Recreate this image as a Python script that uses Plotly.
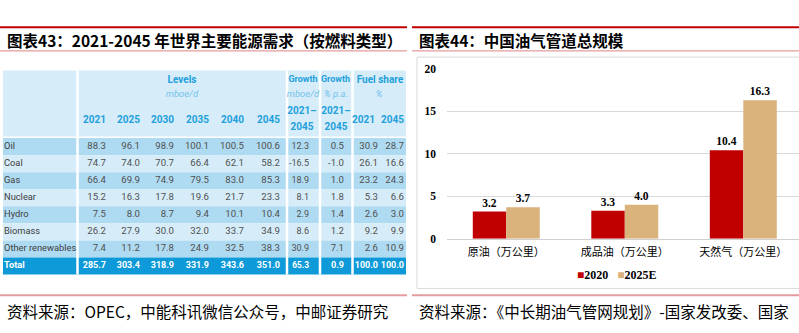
import plotly.graph_objects as go

W, H = 799, 333

# ---------------- Table data (图表43) ----------------
fuels = ["Oil", "Coal", "Gas", "Nuclear", "Hydro", "Biomass", "Other renewables", "Total"]
level_years = ["2021", "2025", "2030", "2035", "2040", "2045"]
lvl_2021 = [88.3, 74.7, 66.4, 15.2, 7.5, 26.2, 7.4, 285.7]
lvl_2025 = [96.1, 74.0, 69.9, 16.3, 8.0, 27.9, 11.2, 303.4]
lvl_2030 = [98.9, 70.7, 74.9, 17.8, 8.7, 30.0, 17.8, 318.9]
lvl_2035 = [100.1, 66.4, 79.5, 19.6, 9.4, 32.0, 24.9, 331.9]
lvl_2040 = [100.5, 62.1, 83.0, 21.7, 10.1, 33.7, 32.5, 343.6]
lvl_2045 = [100.6, 58.2, 85.3, 23.3, 10.4, 34.9, 38.3, 351.0]
growth_mboe = [12.3, -16.5, 18.9, 8.1, 2.9, 8.6, 30.9, 65.3]
growth_pa = [0.5, -1.0, 1.0, 1.8, 1.4, 1.2, 7.1, 0.9]
share_years = ["2021", "2045"]
share_2021 = [30.9, 26.1, 23.2, 5.3, 2.6, 9.2, 2.6, 100.0]
share_2045 = [28.7, 16.6, 24.3, 6.6, 3.0, 9.9, 10.9, 100.0]

# ---------------- Bar chart data (图表44) ----------------
pipe_cats = ["原油（万公里）", "成品油（万公里）", "天然气（万公里）"]
pipe_2020 = [3.2, 3.3, 10.4]
pipe_2025 = [3.7, 4.0, 16.3]
series_names = ["2020", "2025E"]
y_ticks = [0, 5, 10, 15, 20]

# ---------------- styles / layout positions ----------------
RED = "#C00000"
TAN = "#D9B27C"
PINK = "#E49C9C"
HDR_BG = "#D6EDF9"
ROW_DARK = "#AFDBF2"
ROW_LIGHT = "#D6EDF9"
TOTAL_BG = "#0E9AD8"
BLUE_TXT = "#23A0DC"
BLUE_IT = "#74C2EA"
VAL_TXT = "#505050"
CJK = "Noto Sans CJK SC"
SERIF = "Liberation Serif"
TBL = "Roboto"

tbl_x0, tbl_x1 = 3, 406
hdr_y0, hdr_y1 = 67, 135.5
body_y0, row_h = 137, 17.7
col_right = [106, 140, 174, 209, 244, 280, 309, 344, 378, 404]
col_size = [9.6, 9.6, 9.6, 9.6, 9.6, 9.6, 9.0, 9.6, 9.6, 9.6]
sep_x = [77.5, 287, 320, 352.5]


def fmt(v):
    s = f"{abs(v):.1f}"
    return ("-" + s) if v < 0 else s


columns = [lvl_2021, lvl_2025, lvl_2030, lvl_2035, lvl_2040, lvl_2045,
           growth_mboe, growth_pa, share_2021, share_2045]
n_rows = len(fuels)
row_cy = [body_y0 + (i + 0.5) * row_h for i in range(n_rows)]

fig = go.Figure()

# ---- bars ----
for name, vals, col in [(series_names[0], pipe_2020, RED), (series_names[1], pipe_2025, TAN)]:
    fig.add_trace(go.Bar(
        x=pipe_cats, y=vals, name=name, marker=dict(color=col, line=dict(width=0)),
        texttemplate="%{y:.1f}", textposition="outside",
        textfont=dict(family=SERIF, size=11.5, color="#000000", weight="bold"),
        cliponaxis=False, showlegend=False, xaxis="x", yaxis="y",
    ))

# ---- table text (pixel overlay axes x2/y2) ----
bx, by, bt, bs = [], [], [], []
tx, ty, tt, ts = [], [], [], []
for j, colvals in enumerate(columns):
    for i, v in enumerate(colvals):
        if i == n_rows - 1:
            tx.append(col_right[j]); ty.append(row_cy[i]); tt.append(fmt(v)); ts.append(col_size[j] - 0.6)
        else:
            bx.append(col_right[j]); by.append(row_cy[i]); bt.append(fmt(v)); bs.append(col_size[j])

common = dict(mode="text", xaxis="x2", yaxis="y2", showlegend=False,
              hoverinfo="skip", cliponaxis=False, marker=dict(size=1))

fig.add_trace(go.Scatter(x=bx, y=by, text=bt, textposition="middle left",
                         textfont=dict(family=TBL, size=bs, color=VAL_TXT), **common))
fig.add_trace(go.Scatter(x=tx, y=ty, text=tt, textposition="middle left",
                         textfont=dict(family=TBL, size=ts, color="#FFFFFF", weight="bold"), **common))
# row labels
fig.add_trace(go.Scatter(x=[4] * (n_rows - 1), y=row_cy[:-1], text=fuels[:-1],
                         textposition="middle right",
                         textfont=dict(family=TBL, size=9.3, color="#404040"), **common))
fig.add_trace(go.Scatter(x=[4], y=[row_cy[-1]], text=[fuels[-1]], textposition="middle right",
                         textfont=dict(family=TBL, size=9.3, color="#FFFFFF", weight="bold"), **common))
# header: year labels (right aligned)
hy_x = col_right[:6] + [col_right[8] - 3, col_right[9]]
hy_t = level_years + share_years
fig.add_trace(go.Scatter(x=hy_x, y=[119] * len(hy_x), text=hy_t, textposition="middle left",
                         textfont=dict(family=TBL, size=10, color=BLUE_TXT, weight="bold"), **common))
# header: bold centred labels
hb = [("Levels", 182, 77), ("Fuel share", 380, 77),
      ("2021–", 302, 109), ("2045", 302, 126), ("2021–", 336, 109), ("2045", 336, 126)]
fig.add_trace(go.Scatter(x=[h[1] for h in hb], y=[h[2] for h in hb], text=[h[0] for h in hb],
                         textposition="middle center",
                         textfont=dict(family=TBL, size=10, color=BLUE_TXT, weight="bold"), **common))
hg = [("Growth", 303, 77), ("Growth", 335.5, 77)]
fig.add_trace(go.Scatter(x=[h[1] for h in hg], y=[h[2] for h in hg], text=[h[0] for h in hg],
                         textposition="middle center",
                         textfont=dict(family=TBL, size=9, color=BLUE_TXT, weight="bold"), **common))
hi = [("mboe/d", 182, 92), ("mboe/d", 303, 92), ("% p.a.", 336, 92), ("%", 379, 92)]
fig.add_trace(go.Scatter(x=[h[1] for h in hi], y=[h[2] for h in hi], text=[h[0] for h in hi],
                         textposition="middle center",
                         textfont=dict(family=TBL, size=9.5, color=BLUE_IT, style="italic"), **common))

# ---- shapes ----
shapes = []


def rect(x0, y0, x1, y1, fill, line_color=None, lw=0, layer="below"):
    shapes.append(dict(type="rect", xref="x2", yref="y2", x0=x0, y0=y0, x1=x1, y1=y1,
                       fillcolor=fill, line=dict(color=line_color or fill, width=lw), layer=layer))


def hline(x0, x1, y, color, w):
    shapes.append(dict(type="line", xref="x2", yref="y2", x0=x0, x1=x1, y0=y, y1=y,
                       line=dict(color=color, width=w), layer="below"))


# table backgrounds
rect(tbl_x0, hdr_y0, tbl_x1, hdr_y1, HDR_BG)
for i in range(n_rows):
    y0 = body_y0 + i * row_h
    colr = TOTAL_BG if i == n_rows - 1 else (ROW_DARK if i % 2 == 0 else ROW_LIGHT)
    rect(tbl_x0, y0, tbl_x1, y0 + row_h, colr)
for sx in sep_x:
    shapes.append(dict(type="line", xref="x2", yref="y2", x0=sx, x1=sx, y0=hdr_y0,
                       y1=body_y0 + n_rows * row_h, line=dict(color="#FFFFFF", width=2.5), layer="below"))

# chart frame
shapes.append(dict(type="rect", xref="x2", yref="y2", x0=417, y0=53, x1=812, y1=293,
                   line=dict(color="#D9D9D9", width=1), fillcolor="rgba(0,0,0,0)", layer="below"))

# rules
hline(0, 407, 22, RED, 2)
hline(412, 799, 22, RED, 2)
hline(0, 407, 46.5, PINK, 1.2)
hline(412, 799, 46.5, PINK, 1.2)
hline(0, 407, 300, PINK, 2)
hline(412, 799, 300, PINK, 2)

# ---- annotations ----
def px(x):
    return x / W


def py(y):
    return 1 - y / H


annotations = [
    dict(text="<b>图表43：2021-2045 年世界主要能源需求（按燃料类型）</b>", x=px(5), y=py(35),
         xanchor="left", yanchor="middle", font=dict(family=CJK, size=15.5, color="#000000")),
    dict(text="<b>图表44：中国油气管道总规模</b>", x=px(417), y=py(35),
         xanchor="left", yanchor="middle", font=dict(family=CJK, size=15.5, color="#000000")),
    dict(text="资料来源：OPEC，中能科讯微信公众号，中邮证券研究", x=px(5), y=py(316),
         xanchor="left", yanchor="middle", font=dict(family=CJK, size=15.5, color="#000000")),
    dict(text="资料来源：《中长期油气管网规划》-国家发改委、国家", x=px(417), y=py(316),
         xanchor="left", yanchor="middle", font=dict(family=CJK, size=15.5, color="#000000")),
    dict(text=("<span style='color:%s'>■</span><b>%s</b>   <span style='color:%s'>■</span><b>%s</b>"
               % (RED, series_names[0], TAN, series_names[1])),
         x=px(617), y=py(279), xanchor="center", yanchor="middle",
         font=dict(family=SERIF, size=12, color="#000000")),
]
for a in annotations:
    a.update(xref="paper", yref="paper", showarrow=False)

fig.update_layout(
    width=W, height=H, margin=dict(l=0, r=0, t=0, b=0),
    paper_bgcolor="#FFFFFF", plot_bgcolor="rgba(0,0,0,0)",
    barmode="group", bargap=0.435, bargroupgap=0.0,
    showlegend=False,
    xaxis=dict(domain=[px(447), 1], range=[-0.5, 2.47], showgrid=False, ticks="",
               showline=True, linecolor="#D0D0D0", linewidth=1,
               tickfont=dict(family=CJK, size=11, color="#000000"),
               ticklabelstandoff=3, anchor="y", fixedrange=True),
    yaxis=dict(domain=[py(241.5), py(65)], range=[0, 20], tickvals=y_ticks,
               showgrid=True, gridcolor="#D9D9D9", gridwidth=1, zeroline=False,
               showline=False, ticks="",
               tickfont=dict(family=SERIF, size=11.5, color="#000000", weight="bold"),
               ticklabelstandoff=10, anchor="x", fixedrange=True),
    xaxis2=dict(domain=[0, 1], range=[0, W], visible=False, anchor="y2", fixedrange=True),
    yaxis2=dict(domain=[0, 1], range=[H, 0], visible=False, anchor="x2", fixedrange=True),
    shapes=shapes, annotations=annotations,
)

fig.write_html("out.html")
